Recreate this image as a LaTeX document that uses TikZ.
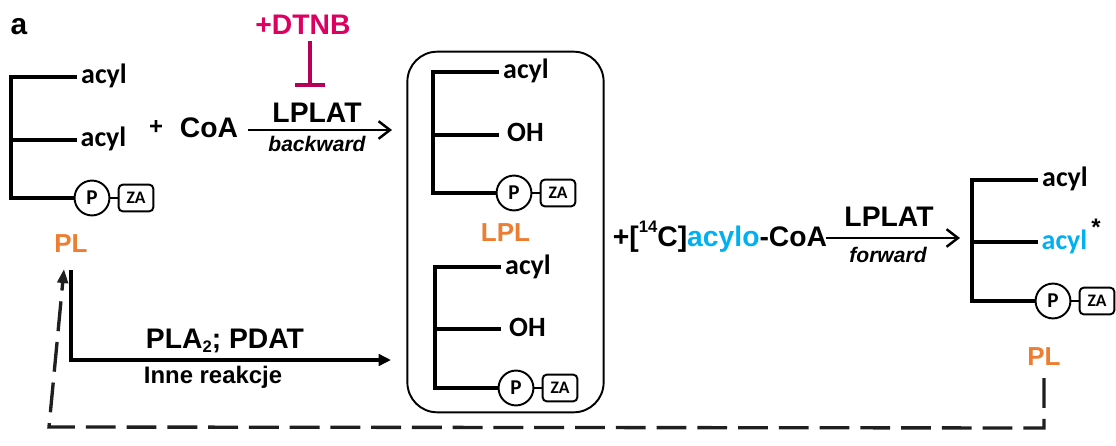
\documentclass[tikz,border=0pt]{standalone}
\usepackage{fontspec}
\setmainfont{Liberation Sans}
\newfontfamily\carlito{Carlito}
\usetikzlibrary{arrows.meta}
\definecolor{plorange}{HTML}{ED7D31}
\definecolor{acylblue}{HTML}{00B0F0}
\definecolor{dtnbred}{HTML}{DC0060}
\definecolor{barred}{HTML}{B5005A}
\tikzset{
  big/.style={font=\fontsize{16.1}{18}\selectfont\bfseries, anchor=base, inner sep=0pt},
  cal/.style={font=\fontsize{15.9}{18}\selectfont\bfseries\carlito, anchor=base, inner sep=0pt},
  lab/.style={font=\fontsize{14.8}{18}\selectfont\bfseries, anchor=base, inner sep=0pt, text=plorange},
  small/.style={font=\fontsize{12}{14}\selectfont\bfseries\itshape, anchor=base, inner sep=0pt},
  spine/.style={line width=1.9pt, line cap=rect},
  pcircle/.style={circle, draw, line width=1.1pt, fill=white, minimum size=35*0.567pt, inner sep=0pt,
    font=\fontsize{12}{14}\selectfont\bfseries\carlito},
  zabox/.style={rectangle, rounded corners=2.5pt, draw, line width=1.1pt, fill=white, minimum width=35*0.567pt,
    minimum height=27*0.567pt, inner sep=0pt, font=\fontsize{10}{12}\selectfont\bfseries\carlito},
  openarrow/.style={-{Straight Barb[length=6.5pt, width=10pt, line width=1.4pt]}, line width=1.4pt},
  fillarrow/.style={-{Triangle[length=7pt, width=6.5pt]}, line width=1.9pt},
  dasharrow/.style={-{Triangle[length=8pt, width=6pt]}, line width=1.9pt, dash pattern=on 17pt off 6.2pt},
}
% #1 name, #2 and #3 top of the spine, #4 middle branch offset, #5 middle label
\newcommand{\lipid}[5]{
  \begin{scope}[shift={(#2, #3)}]
    \coordinate (#1-top) at (0, 0);
    \coordinate (#1-mid) at (0, #4);
    \coordinate (#1-low) at (0, 121);
    \coordinate (#1-topend) at (64, 0);
    \coordinate (#1-midend) at (64, #4);
    \node[pcircle] (#1-p) at (81, 121) {P};
    \node[zabox] (#1-za) at (125, 121) {ZA};
    \node[cal] (#1-acyl) at (93, 7) {acyl};
    \node[cal] (#1-midlab) at (92.5, #4+7) {#5};
    \draw[spine] (#1-topend) -- (#1-top) -- (#1-low) -- (#1-p);
    \draw[spine] (#1-mid) -- (#1-midend);
    \draw[line width=1.1pt] (#1-p) -- (#1-za);
  \end{scope}
}
\begin{document}
\begin{tikzpicture}[x=0.02cm, y=-0.02cm]
    \useasboundingbox (0, 0) rectangle (1116, 446);

    \node[big, font=\fontsize{17}{20}\selectfont\bfseries] (panel) at (19, 34.5) {a};

    \lipid{plleft}{11}{77}{63}{acyl}
    \lipid{lpltop}{433}{72}{63}{OH}
    \lipid{lplbot}{435}{267}{62}{OH}
    \lipid{plright}{972}{180}{62}{\textcolor{acylblue}{acyl}}

    \node[draw, line width=1.1pt, rounded corners=17pt, minimum width=197*0.567pt, minimum height=362*0.567pt,
      inner sep=0pt] (lplbox) at (505.5, 232) {};

    \node[big, font=\fontsize{13.6}{16}\selectfont\bfseries] (plus) at (156, 134) {+};
    \node[big] (coa) at (209, 137) {CoA};
    \node[big] (lplatb) at (317, 122.6) {LPLAT};
    \node[small] (backward) at (317, 151.6) {backward};
    \node[big, text=dtnbred] (dtnb) at (303, 35) {+DTNB};
    \node[big] (acylcoa) at (720, 246)
      {+[\raisebox{7.5pt}{\fontsize{9.5}{11}\selectfont 14}C]\textcolor{acylblue}{acylo}-CoA};
    \node[big] (lplatf) at (889, 226.7) {LPLAT};
    \node[small] (forward) at (888, 262.7) {forward};
    \node[big] (pla) at (225, 348) {PLA\raisebox{-2.5pt}{\fontsize{9.5}{11}\selectfont 2}; PDAT};
    \node[big, font=\fontsize{13.6}{16}\selectfont\bfseries] (inne) at (213, 383) {Inne reakcje};
    \node[big, font=\fontsize{13.6}{16}\selectfont\bfseries] (star) at (1096, 235.5) {*};

    \node[lab] (plone) at (71, 252) {PL};
    \node[lab] (lpl) at (505.5, 241.6) {LPL};
    \node[lab] (pltwo) at (1044, 365) {PL};

    \coordinate (backstart) at (248, 130);
    \coordinate (backend) at (392, 130);
    \coordinate (forstart) at (826, 238);
    \coordinate (forend) at (960, 238);
    \coordinate (inhstart) at (310, 41);
    \coordinate (inhend) at (310, 87);
    \coordinate (plastart) at (71, 270);
    \coordinate (placorner) at (71, 360);
    \coordinate (plaend) at (391, 360);
    \coordinate (loopstart) at (1044, 378);
    \coordinate (loopright) at (1044, 428);
    \coordinate (loopleft) at (49, 427);
    \coordinate (loopend) at (64, 269);

    \draw[openarrow] (backstart) -- (backend);
    \draw[openarrow] (forstart) -- (forend);
    \draw[barred, line width=2pt, -{Bar[width=17.5pt]}] (inhstart) -- (inhend);
    \draw[fillarrow] (plastart) -- (placorner) -- (plaend);
    \draw[dasharrow, black!88] (loopstart) -- (loopright) -- (loopleft) -- (loopend);
  \end{tikzpicture}
\end{document}
